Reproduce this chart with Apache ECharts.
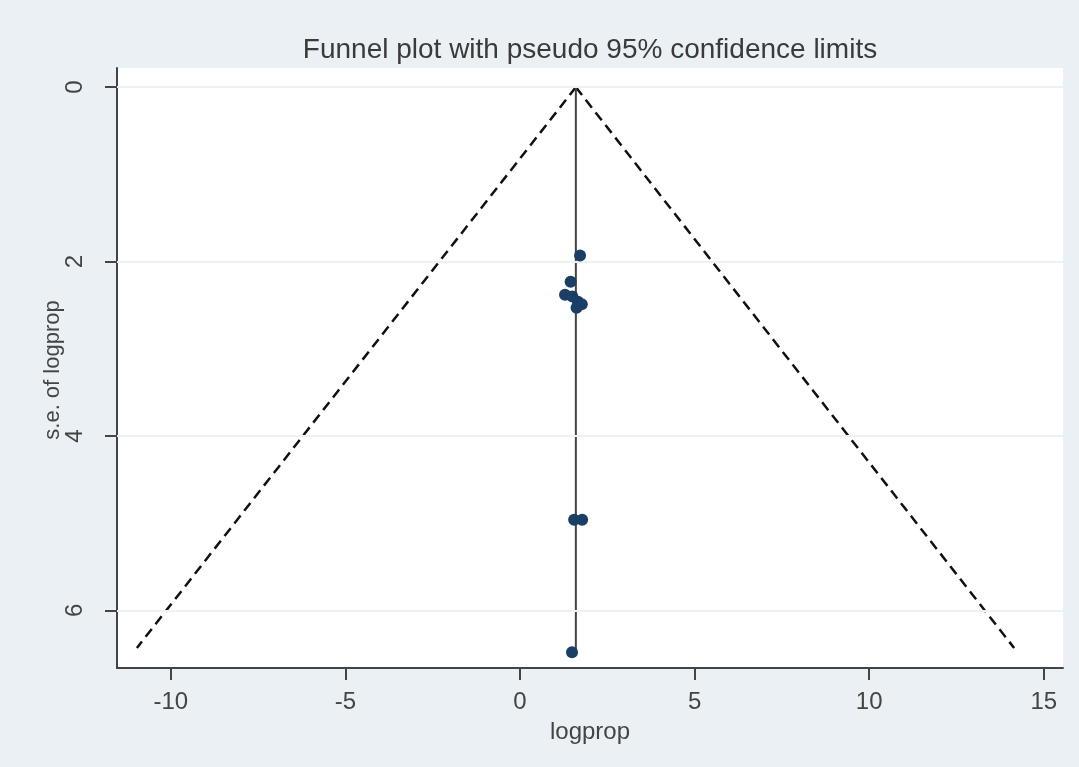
<!DOCTYPE html>
<html>
<head>
<meta charset="utf-8">
<script src="https://cdn.jsdelivr.net/npm/echarts@6/dist/echarts.min.js"></script>
<style>
  html, body { margin: 0; padding: 0; background: #eaf0f3; }
  #funnelChart { width: 1079px; height: 767px; }
</style>
</head>
<body>
<div id="funnelChart"></div>
<script>
// study estimates: [logprop, s.e. of logprop]
var studyPoints = [
  [1.72, 1.93],
  [1.45, 2.23],
  [1.29, 2.38],
  [1.50, 2.40],
  [1.66, 2.46],
  [1.77, 2.49],
  [1.62, 2.53],
  [1.55, 4.96],
  [1.78, 4.96],
  [1.49, 6.48]
];
var pooledLine = [[1.60, 0], [1.60, 6.48]];
var lowerLimit = [[1.60, 0], [-10.97, 6.43]];
var upperLimit = [[1.60, 0], [14.15, 6.43]];
var xTicks = [-10, -5, 0, 5, 10, 15];
var yTicks = [0, 2, 4, 6];

var chartFont = 'Liberation Sans, Arial, sans-serif';
var myChart = echarts.init(document.getElementById('funnelChart'));

var option = {
  backgroundColor: '#eaf0f3',
  animation: false,
  title: {
    text: 'Funnel plot with pseudo 95% confidence limits',
    left: 585,
    top: 31,
    textAlign: 'center',
    textStyle: { fontSize: 28, fontWeight: 'normal', color: '#3a3a3a', fontFamily: chartFont }
  },
  // y axis title placed by hand, the axis name kept getting pushed left
  graphic: [{
    type: 'text',
    x: 53,
    y: 370,
    rotation: Math.PI / 2,
    style: {
      text: 's.e. of logprop',
      fontSize: 22,
      fontFamily: chartFont,
      fill: '#444',
      align: 'center',
      verticalAlign: 'middle'
    }
  }],
  grid: { left: 117, right: 16, top: 68, bottom: 99, show: true, backgroundColor: '#fff', borderWidth: 0 },
  xAxis: {
    type: 'value',
    position: 'bottom',
    min: -11.54,
    max: 15.55,
    name: 'logprop',
    nameLocation: 'middle',
    nameGap: 52,
    nameTextStyle: { fontSize: 24, color: '#444', fontFamily: chartFont },
    axisLine: { onZero: false, lineStyle: { color: '#444', width: 2 } },
    axisTick: { show: true, length: 12, lineStyle: { color: '#444', width: 2 }, customValues: xTicks },
    axisLabel: { fontSize: 24, color: '#444', margin: 22, fontFamily: chartFont, customValues: xTicks },
    splitLine: { show: false }
  },
  yAxis: {
    type: 'value',
    position: 'left',
    inverse: true,
    min: -0.22,
    max: 6.66,
    axisLine: { show: true, onZero: false, lineStyle: { color: '#444', width: 2 } },
    axisTick: { show: true, length: 12, lineStyle: { color: '#444', width: 2 }, customValues: yTicks },
    axisLabel: { fontSize: 24, color: '#444', rotate: 90, margin: 30, fontFamily: chartFont, customValues: yTicks },
    splitLine: { show: false }
  },
  series: [{
    name: 'grid',
    type: 'line',
    data: [],
    markLine: {
      silent: true,
      symbol: 'none',
      label: { show: false },
      lineStyle: { color: '#eef1f3', width: 2, type: 'solid' },
      data: yTicks.map(function(v) { return { yAxis: v }; })
    }
  }, {
    name: 'lower',
    type: 'line',
    data: lowerLimit,
    symbol: 'none',
    lineStyle: { color: '#111', width: 2.5, type: [10, 6] }
  }, {
    name: 'upper',
    type: 'line',
    data: upperLimit,
    symbol: 'none',
    lineStyle: { color: '#111', width: 2.5, type: [10, 6] }
  }, {
    name: 'pooled',
    type: 'line',
    data: pooledLine,
    symbol: 'none',
    lineStyle: { color: '#444', width: 2 }
  }, {
    name: 'studies',
    type: 'scatter',
    data: studyPoints,
    symbol: 'circle',
    symbolSize: 12,
    itemStyle: { color: '#1a3f66', opacity: 1 },
    z: 5
  }]
};
myChart.setOption(option);
</script>
</body>
</html>
